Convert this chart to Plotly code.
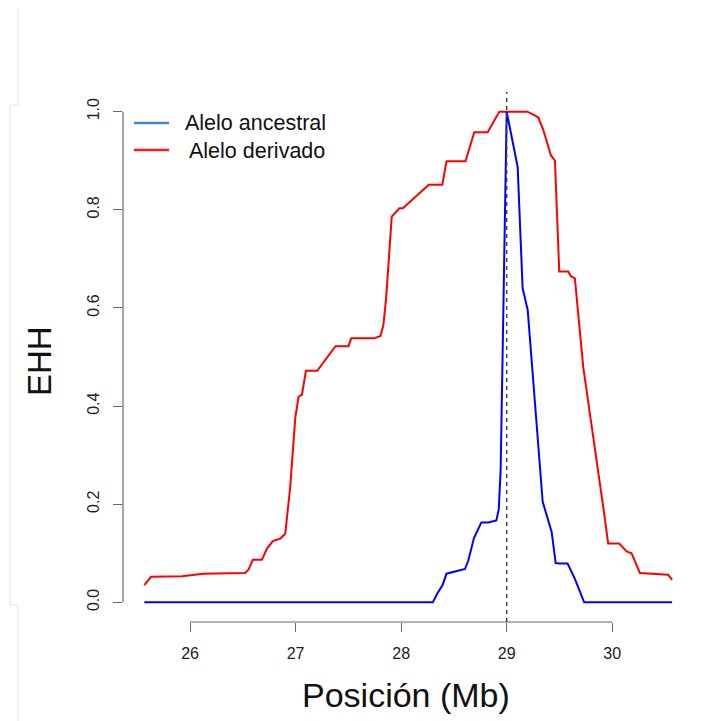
import plotly.graph_objects as go

# ---- data ----
red_x = [25.567, 25.631, 25.924, 26.123, 26.523, 26.555, 26.596, 26.681, 26.729, 26.785,
         26.855, 26.902, 26.949, 26.997, 27.028, 27.06, 27.098, 27.205, 27.378, 27.501,
         27.527, 27.745, 27.804, 27.832, 27.858, 27.911, 27.984, 28.016, 28.262, 28.39,
         28.43, 28.61, 28.693, 28.82, 28.93, 29.195, 29.252, 29.3, 29.346, 29.419,
         29.457, 29.498, 29.583, 29.606, 29.646, 29.725, 29.93, 29.961, 30.066, 30.136,
         30.183, 30.262, 30.53, 30.567]
red_y = [0.035, 0.052, 0.053, 0.0585, 0.06, 0.067, 0.087, 0.087, 0.1095, 0.125,
         0.13, 0.14, 0.235, 0.376, 0.419, 0.423, 0.472, 0.472, 0.522, 0.522,
         0.538, 0.538, 0.543, 0.565, 0.62, 0.786, 0.803, 0.803, 0.851, 0.851,
         0.899, 0.899, 0.958, 0.958, 1.0, 1.0, 0.994, 0.988, 0.963, 0.911,
         0.9, 0.674, 0.674, 0.665, 0.66, 0.48, 0.171, 0.12, 0.12, 0.104,
         0.1, 0.06, 0.0565, 0.046]

blue_x = [25.567, 28.30, 28.343, 28.394, 28.43, 28.558, 28.605, 28.637, 28.69, 28.76,
          28.826, 28.902, 28.925, 28.943, 29.0, 29.104, 29.151, 29.199, 29.341, 29.426,
          29.464, 29.504, 29.577, 29.646, 29.734, 30.567]
blue_y = [0, 0, 0.018, 0.036, 0.0585, 0.066, 0.068, 0.0857, 0.131, 0.163,
          0.163, 0.167, 0.19, 0.272, 1.0, 0.887, 0.64, 0.596, 0.205, 0.1435,
          0.08, 0.079, 0.079, 0.048, 0, 0]

core_position = 29.0
x_ticks = [26, 27, 28, 29, 30]
y_ticks = [0.0, 0.2, 0.4, 0.6, 0.8, 1.0]
y_ticktext = ["0.0", "0.2", "0.4", "0.6", "0.8", "1.0"]
series_names = ["Alelo ancestral", "Alelo derivado"]

# ---- figure (page has an 8px body margin, so the figure is offset by 8px) ----
OFF = 8
W, H = 717 - OFF, 721 - OFF
L, T = 123 - OFF, 92 - OFF
R = W - (693 - OFF)
B = H - (622 - OFF)
PW, PH = W - L - R, H - T - B


def px(xpage):
    return (xpage - OFF - L) / PW


def py(ypage):
    return (H - B - (ypage - OFF)) / PH


FONT = "Liberation Sans, Arial, Helvetica, sans-serif"
AXIS_GRAY = "#666666"

fig = go.Figure()
fig.add_trace(go.Scatter(x=red_x, y=red_y, mode="lines", name=series_names[1],
                         line=dict(color="#ff0000", width=2), showlegend=False))
fig.add_trace(go.Scatter(x=blue_x, y=blue_y, mode="lines", name=series_names[0],
                         line=dict(color="#0000ff", width=2), showlegend=False))

shapes = [
    # R-style axis lines spanning first to last tick
    dict(type="line", xref="x", yref="paper", x0=x_ticks[0], x1=x_ticks[-1], y0=0, y1=0,
         line=dict(color=AXIS_GRAY, width=1.2), layer="above"),
    dict(type="line", xref="paper", yref="y", x0=0, x1=0, y0=y_ticks[0], y1=y_ticks[-1],
         line=dict(color=AXIS_GRAY, width=1.2), layer="above"),
    # vertical dashed line at the core SNP
    dict(type="line", xref="x", yref="paper", x0=core_position, x1=core_position, y0=0, y1=1,
         line=dict(color="#444444", width=1.5, dash="4px,4px"), layer="above"),
    # legend keys
    dict(type="line", xref="paper", yref="paper", x0=px(134), x1=px(169), y0=py(123), y1=py(123),
         line=dict(color="#3c82f0", width=2.5)),
    dict(type="line", xref="paper", yref="paper", x0=px(134), x1=px(169), y0=py(150), y1=py(150),
         line=dict(color="#ff1a1a", width=2.5)),
    # faint frame on the left edge of the picture
    dict(type="path", xref="paper", yref="paper",
         path=f"M {px(18)} {py(8)} L {px(18)} {py(105)} L {px(10)} {py(105)} "
              f"L {px(10)} {py(605)} L {px(18)} {py(605)} L {px(18)} {py(721)}",
         line=dict(color="#e2e2e2", width=1)),
]

annotations = [
    dict(text=series_names[0], xref="paper", yref="paper", x=px(183), y=py(123),
         xanchor="left", yanchor="middle", showarrow=False,
         font=dict(family=FONT, size=21.5, color="#111111")),
    dict(text=series_names[1], xref="paper", yref="paper", x=px(187), y=py(151),
         xanchor="left", yanchor="middle", showarrow=False,
         font=dict(family=FONT, size=21.5, color="#111111")),
    dict(text="Posición (Mb)", xref="paper", yref="paper", x=px(406), y=py(695),
         xanchor="center", yanchor="middle", showarrow=False,
         font=dict(family=FONT, size=34, color="#111111")),
    dict(text="EHH", xref="paper", yref="paper", x=px(39), y=py(361), textangle=-90,
         xanchor="center", yanchor="middle", showarrow=False,
         font=dict(family=FONT, size=33, color="#111111")),
]

fig.update_layout(
    width=W, height=H,
    margin=dict(l=L, r=R, t=T, b=B, pad=0),
    paper_bgcolor="white", plot_bgcolor="white",
    showlegend=False,
    shapes=shapes,
    annotations=annotations,
    xaxis=dict(range=[25.365, 30.765], showgrid=False, zeroline=False, showline=False,
               tickmode="array", tickvals=x_ticks, ticktext=[str(v) for v in x_ticks],
               ticks="outside", ticklen=9, tickwidth=1.2, tickcolor=AXIS_GRAY,
               ticklabelstandoff=8,
               tickfont=dict(family=FONT, size=16, color="#222222")),
    yaxis=dict(range=[-0.04, 1.04], showgrid=False, zeroline=False, showline=False,
               tickmode="array", tickvals=y_ticks, ticktext=y_ticktext, tickangle=-90,
               ticks="outside", ticklen=9, tickwidth=1.2, tickcolor=AXIS_GRAY,
               ticklabelstandoff=8,
               tickfont=dict(family=FONT, size=16, color="#222222")),
)

fig.write_html("out.html")
